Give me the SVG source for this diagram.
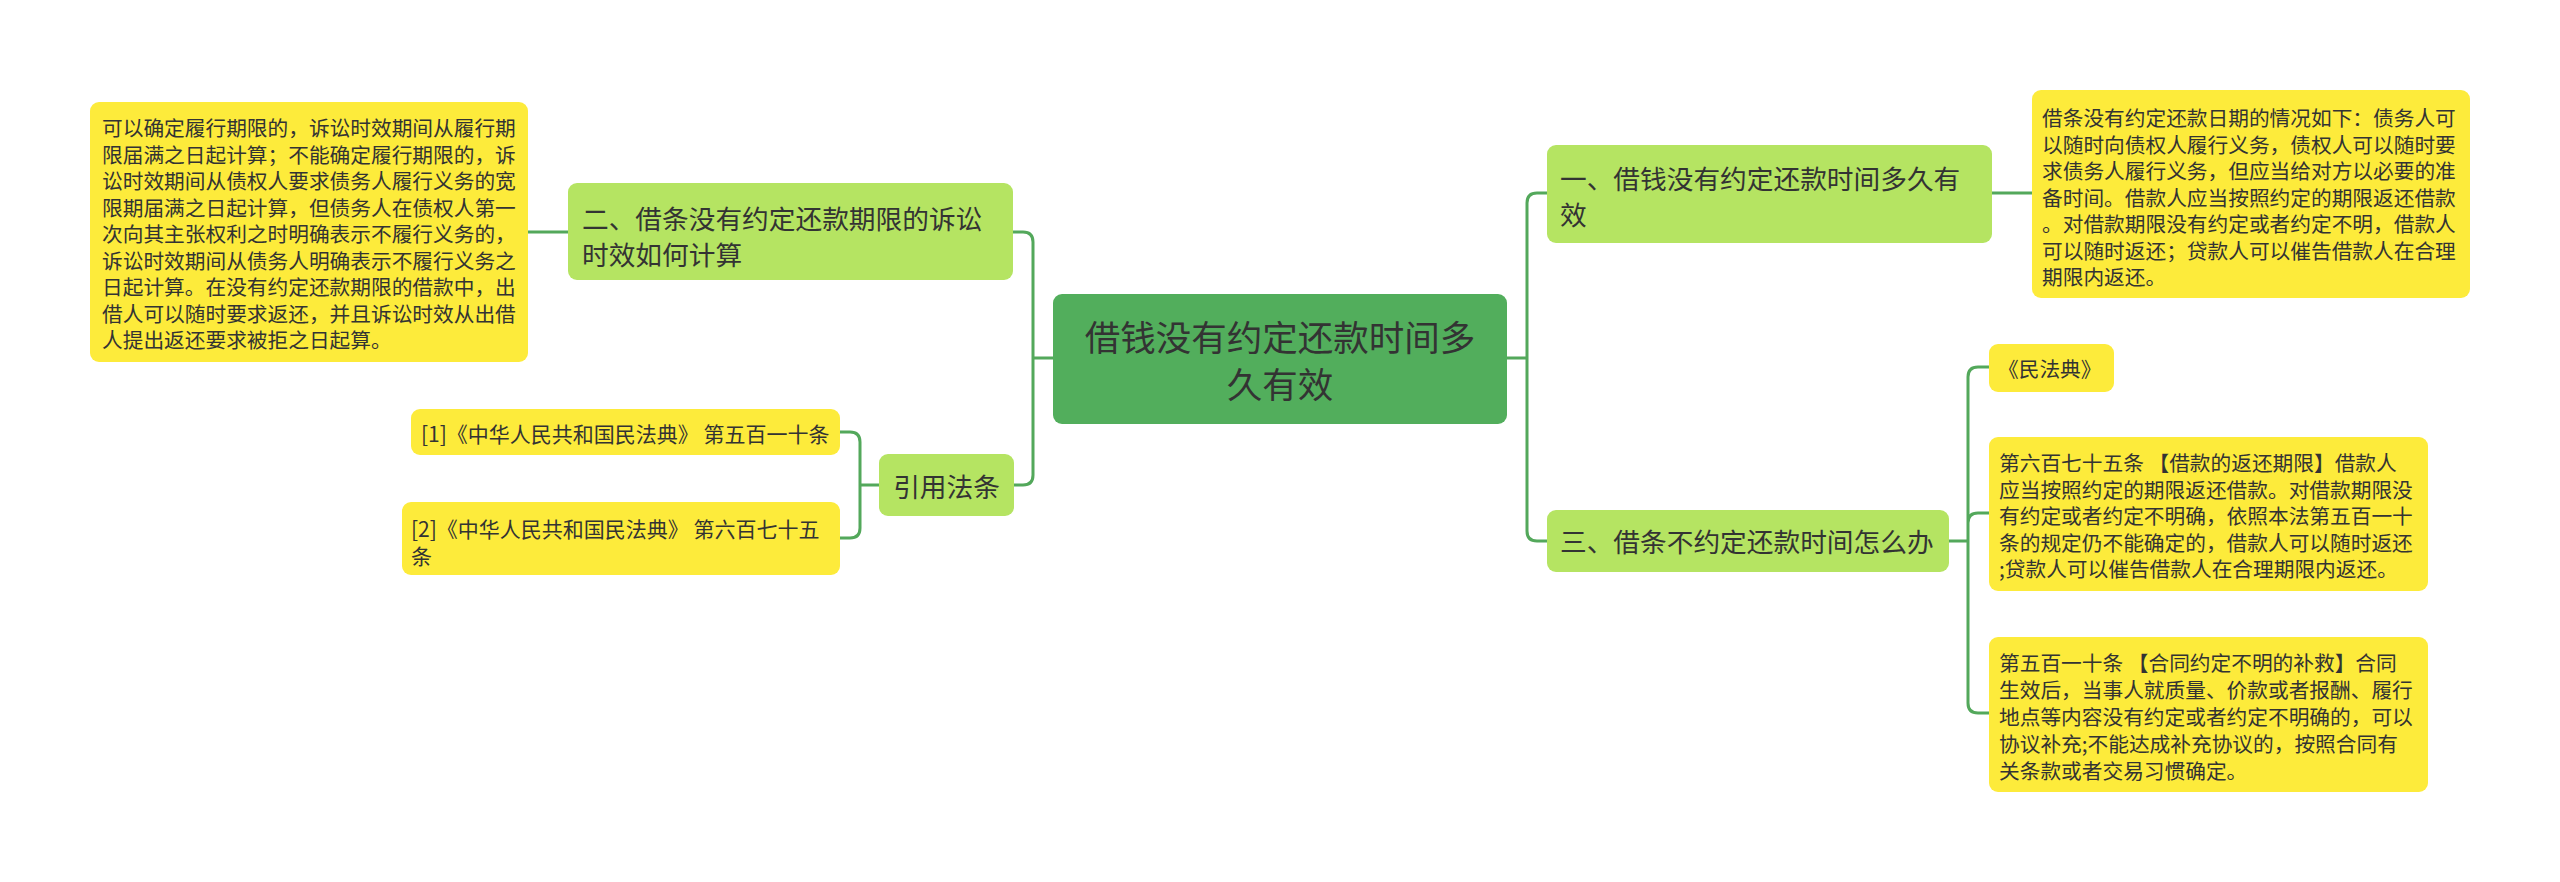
<svg xmlns="http://www.w3.org/2000/svg" width="2560" height="882" viewBox="0 0 2560 882">
<style>
.bg{fill:#ffffff}
.root{fill:#52AE5C}
.l1{fill:#B5E462}
.leaf{fill:#FDEB3B}
.t{font-family:"Noto Sans CJK SC","Noto Sans",sans-serif;fill:#333333;dominant-baseline:central}
.tr{font-size:35.5px;text-anchor:middle}
.t1{font-size:26.7px}
.t2{font-size:20.7px}
.t3{font-size:21px}
.c{fill:none;stroke:#53A85B;stroke-width:3}
</style>
<rect class="bg" x="0" y="0" width="2560" height="882"/>
<g id="connectors">
<path class="c" d="M528,232 H568"/>
<path class="c" d="M1053,358 H1033 M1033,358 V242 Q1033,232 1023,232 H1013 M1033,358 V475 Q1033,485 1023,485 H1014"/>
<path class="c" d="M879,485 H860 M860,485 V442 Q860,432 850,432 H840 M860,485 V528 Q860,538 850,538 H840"/>
<path class="c" d="M1507,358 H1527 M1527,358 V203 Q1527,193 1537,193 H1547 M1527,358 V531 Q1527,541 1537,541 H1547"/>
<path class="c" d="M1992,193 H2032"/>
<path class="c" d="M1949,541 H1968 M1968,541 V377 Q1968,367 1978,367 H1989 M1968,541 V523 Q1968,513 1978,513 H1989 M1968,541 V703 Q1968,713 1978,713 H1989"/>
</g>
<g id="root">
<rect class="root" x="1053" y="294" width="454" height="130" rx="9"/>
<text class="t tr" x="1280" y="335">借钱没有约定还款时间多</text>
<text class="t tr" x="1280" y="382">久有效</text>
</g>
<g id="n2">
<rect class="l1" x="568" y="183" width="445" height="97" rx="9"/>
<text class="t t1" x="582" y="217">二、借条没有约定还款期限的诉讼</text>
<text class="t t1" x="582" y="253">时效如何计算</text>
</g>
<g id="n2a">
<rect class="leaf" x="90" y="102" width="438" height="260" rx="9"/>
<text class="t t2" x="102" y="127">可以确定履行期限的，诉讼时效期间从履行期</text>
<text class="t t2" x="102" y="153.5">限届满之日起计算；不能确定履行期限的，诉</text>
<text class="t t2" x="102" y="180">讼时效期间从债权人要求债务人履行义务的宽</text>
<text class="t t2" x="102" y="206.5">限期届满之日起计算，但债务人在债权人第一</text>
<text class="t t2" x="102" y="233">次向其主张权利之时明确表示不履行义务的，</text>
<text class="t t2" x="102" y="259.5">诉讼时效期间从债务人明确表示不履行义务之</text>
<text class="t t2" x="102" y="286">日起计算。在没有约定还款期限的借款中，出</text>
<text class="t t2" x="102" y="312.5">借人可以随时要求返还，并且诉讼时效从出借</text>
<text class="t t2" x="102" y="339">人提出返还要求被拒之日起算。</text>
</g>
<g id="n4">
<rect class="l1" x="879" y="454" width="135" height="62" rx="9"/>
<text class="t t1" x="946.5" y="485" text-anchor="middle">引用法条</text>
</g>
<g id="n4a">
<rect class="leaf" x="411" y="409" width="429" height="46" rx="9"/>
<text class="t t3" x="421" y="433">[1]《中华人民共和国民法典》 第五百一十条</text>
</g>
<g id="n4b">
<rect class="leaf" x="402" y="502" width="438" height="73" rx="9"/>
<text class="t t3" x="411" y="528">[2]《中华人民共和国民法典》 第六百七十五</text>
<text class="t t3" x="411" y="555">条</text>
</g>
<g id="n1">
<rect class="l1" x="1547" y="145" width="445" height="98" rx="9"/>
<text class="t t1" x="1560" y="177">一、借钱没有约定还款时间多久有</text>
<text class="t t1" x="1560" y="213">效</text>
</g>
<g id="n1a">
<rect class="leaf" x="2032" y="90" width="438" height="208" rx="9"/>
<text class="t t2" x="2042" y="117">借条没有约定还款日期的情况如下：债务人可</text>
<text class="t t2" x="2042" y="143.5">以随时向债权人履行义务，债权人可以随时要</text>
<text class="t t2" x="2042" y="170">求债务人履行义务，但应当给对方以必要的准</text>
<text class="t t2" x="2042" y="196.5">备时间。借款人应当按照约定的期限返还借款</text>
<text class="t t2" x="2042" y="223">。对借款期限没有约定或者约定不明，借款人</text>
<text class="t t2" x="2042" y="249.5">可以随时返还；贷款人可以催告借款人在合理</text>
<text class="t t2" x="2042" y="276">期限内返还。</text>
</g>
<g id="n3">
<rect class="l1" x="1547" y="510" width="402" height="62" rx="9"/>
<text class="t t1" x="1560" y="540">三、借条不约定还款时间怎么办</text>
</g>
<g id="n3a">
<rect class="leaf" x="1989" y="344" width="125" height="48" rx="9"/>
<text class="t t2" x="1998" y="368">《民法典》</text>
</g>
<g id="n3b">
<rect class="leaf" x="1989" y="437" width="439" height="154" rx="9"/>
<text class="t t2" x="1999" y="462">第六百七十五条 【借款的返还期限】借款人</text>
<text class="t t2" x="1999" y="488.5">应当按照约定的期限返还借款。对借款期限没</text>
<text class="t t2" x="1999" y="515">有约定或者约定不明确，依照本法第五百一十</text>
<text class="t t2" x="1999" y="541.5">条的规定仍不能确定的，借款人可以随时返还</text>
<text class="t t2" x="1999" y="568">;贷款人可以催告借款人在合理期限内返还。</text>
</g>
<g id="n3c">
<rect class="leaf" x="1989" y="637" width="439" height="155" rx="9"/>
<text class="t t2" x="1999" y="662">第五百一十条 【合同约定不明的补救】合同</text>
<text class="t t2" x="1999" y="689">生效后，当事人就质量、价款或者报酬、履行</text>
<text class="t t2" x="1999" y="716">地点等内容没有约定或者约定不明确的，可以</text>
<text class="t t2" x="1999" y="743">协议补充;不能达成补充协议的，按照合同有</text>
<text class="t t2" x="1999" y="770">关条款或者交易习惯确定。</text>
</g>
</svg>
